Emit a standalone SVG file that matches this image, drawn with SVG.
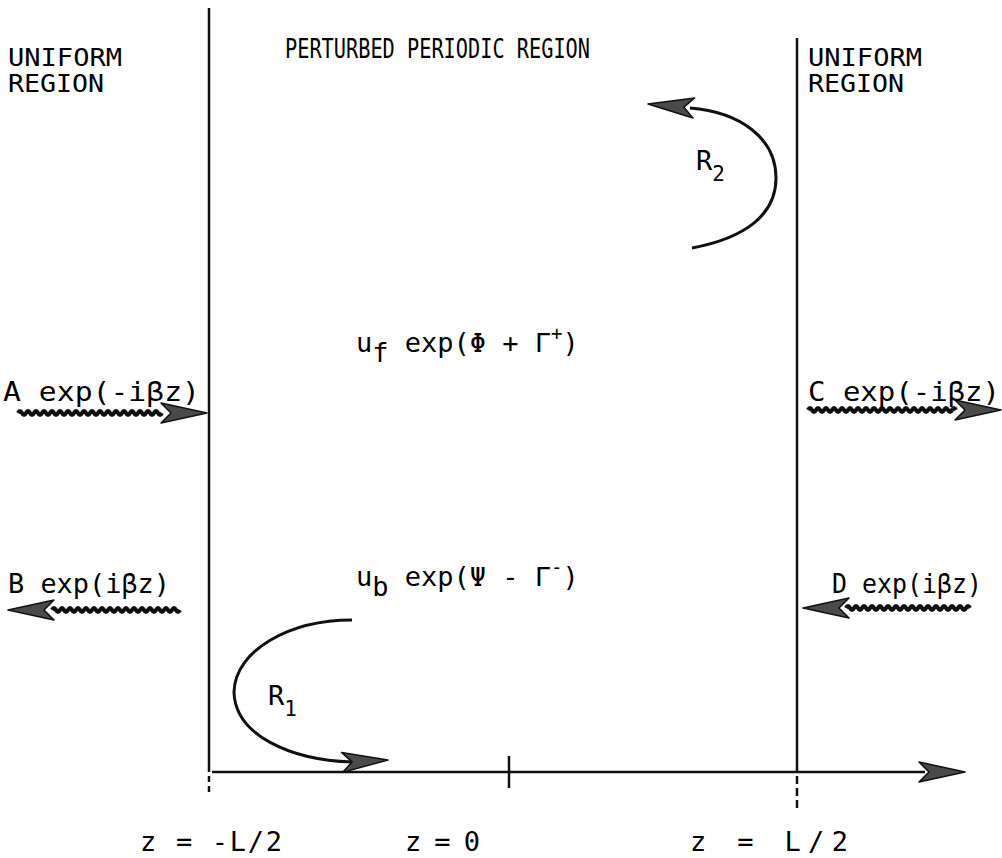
<svg xmlns="http://www.w3.org/2000/svg" width="1002" height="858" viewBox="0 0 1002 858">
<defs>
<style>
.t{font-family:"DejaVu Sans Mono","Liberation Mono",monospace;font-size:27px;fill:#000}
.h{font-size:24px}
.ln{stroke:#111;stroke-width:2.5;fill:none}
.wv{stroke:#111;stroke-width:4;fill:none}
.cv{stroke:#111;stroke-width:3;fill:none}
.ah{fill:#4a4a4a;stroke:#111;stroke-width:1.5;stroke-linejoin:round}
</style>
<path id="head" d="M0,0 L-46,-10 L-36,0 L-46,10 Z"/>
</defs>
<rect width="1002" height="858" fill="#fff"/>
<g id="connectors">
<line class="ln" x1="209" y1="8" x2="209" y2="772"/>
<line class="ln" x1="209" y1="776" x2="209" y2="792" stroke-dasharray="6,4"/>
<line class="ln" x1="797" y1="38" x2="797" y2="772"/>
<line class="ln" x1="797" y1="776" x2="797" y2="808" stroke-dasharray="8,4"/>
<line class="ln" x1="212" y1="772" x2="925" y2="772" stroke-width="3"/>
<use href="#head" class="ah" transform="translate(965,772)"/>
<line class="ln" x1="509" y1="756" x2="509" y2="788"/>
<path class="wv" d="M18 413 q2 -4 4 0 t4 0 t4 0 t4 0 t4 0 t4 0 t4 0 t4 0 t4 0 t4 0 t4 0 t4 0 t4 0 t4 0 t4 0 t4 0 t4 0 t4 0 t4 0 t4 0 t4 0 t4 0 t4 0 t4 0 t4 0 t4 0 t4 0 t4 0 t4 0 t4 0 t4 0 t4 0 t4 0 t4 0 t4 0 t4 0"/>
<use href="#head" class="ah" transform="translate(207,413)"/>
<path class="wv" d="M52 610 q2 -4 4 0 t4 0 t4 0 t4 0 t4 0 t4 0 t4 0 t4 0 t4 0 t4 0 t4 0 t4 0 t4 0 t4 0 t4 0 t4 0 t4 0 t4 0 t4 0 t4 0 t4 0 t4 0 t4 0 t4 0 t4 0 t4 0 t4 0 t4 0 t4 0 t4 0 t4 0 t4 0"/>
<use href="#head" class="ah" transform="translate(8,610) rotate(180)"/>
<path class="wv" d="M808 410 q2 -4 4 0 t4 0 t4 0 t4 0 t4 0 t4 0 t4 0 t4 0 t4 0 t4 0 t4 0 t4 0 t4 0 t4 0 t4 0 t4 0 t4 0 t4 0 t4 0 t4 0 t4 0 t4 0 t4 0 t4 0 t4 0 t4 0 t4 0 t4 0 t4 0 t4 0 t4 0 t4 0 t4 0 t4 0 t4 0 t4 0 t4 0"/>
<use href="#head" class="ah" transform="translate(1001,410)"/>
<path class="wv" d="M846 608 q2 -4 4 0 t4 0 t4 0 t4 0 t4 0 t4 0 t4 0 t4 0 t4 0 t4 0 t4 0 t4 0 t4 0 t4 0 t4 0 t4 0 t4 0 t4 0 t4 0 t4 0 t4 0 t4 0 t4 0 t4 0 t4 0 t4 0 t4 0 t4 0 t4 0 t4 0 t4 0"/>
<use href="#head" class="ah" transform="translate(803,608) rotate(180)"/>
<path class="cv" d="M352 620 C290 620 235 650 234 692 C235 735 290 760 352 762"/>
<use href="#head" class="ah" transform="translate(388,760) rotate(-3)"/>
<path class="cv" d="M692 248 C745 238 776 215 776 178 C776 138 740 112 690 108"/>
<use href="#head" class="ah" transform="translate(648,104) rotate(185)"/>
</g>
<g id="labels">
<text class="t h" x="8" y="66" textLength="114" lengthAdjust="spacingAndGlyphs">UNIFORM</text>
<text class="t h" x="8" y="92" textLength="96" lengthAdjust="spacingAndGlyphs">REGION</text>
<text class="t h" x="808" y="66" textLength="114" lengthAdjust="spacingAndGlyphs">UNIFORM</text>
<text class="t h" x="808" y="92" textLength="96" lengthAdjust="spacingAndGlyphs">REGION</text>
<text class="t" x="285" y="58" font-size="26" textLength="305" lengthAdjust="spacingAndGlyphs">PERTURBED PERIODIC REGION</text>
<text class="t" x="3" y="401" textLength="197" lengthAdjust="spacingAndGlyphs">A exp(-iβz)</text>
<text class="t" x="8" y="593" textLength="162" lengthAdjust="spacingAndGlyphs">B exp(iβz)</text>
<text class="t" x="808" y="401" textLength="192" lengthAdjust="spacingAndGlyphs">C exp(-iβz)</text>
<text class="t" x="832" y="593" textLength="150" lengthAdjust="spacingAndGlyphs">D exp(iβz)</text>
<text class="t" x="356" y="352" font-size="26">u<tspan dy="10">f</tspan><tspan dy="-10"> exp(Φ + Γ</tspan><tspan dy="-12" font-size="19">+</tspan><tspan dy="12">)</tspan></text>
<text class="t" x="356" y="586" font-size="26">u<tspan dy="10">b</tspan><tspan dy="-10"> exp(Ψ - Γ</tspan><tspan dy="-12" font-size="19">-</tspan><tspan dy="12">)</tspan></text>
<text class="t" x="268" y="705" font-size="26">R<tspan dy="11" font-size="21">1</tspan></text>
<text class="t" x="696" y="170" font-size="26">R<tspan dy="11" font-size="21">2</tspan></text>
<text class="t" x="140" y="851" textLength="142" lengthAdjust="spacing">z = -L/2</text>
<text class="t" x="405" y="851" textLength="75" lengthAdjust="spacing">z = 0</text>
<text class="t" x="690" y="851" textLength="158" lengthAdjust="spacing">z = L/2</text>
</g>
</svg>
